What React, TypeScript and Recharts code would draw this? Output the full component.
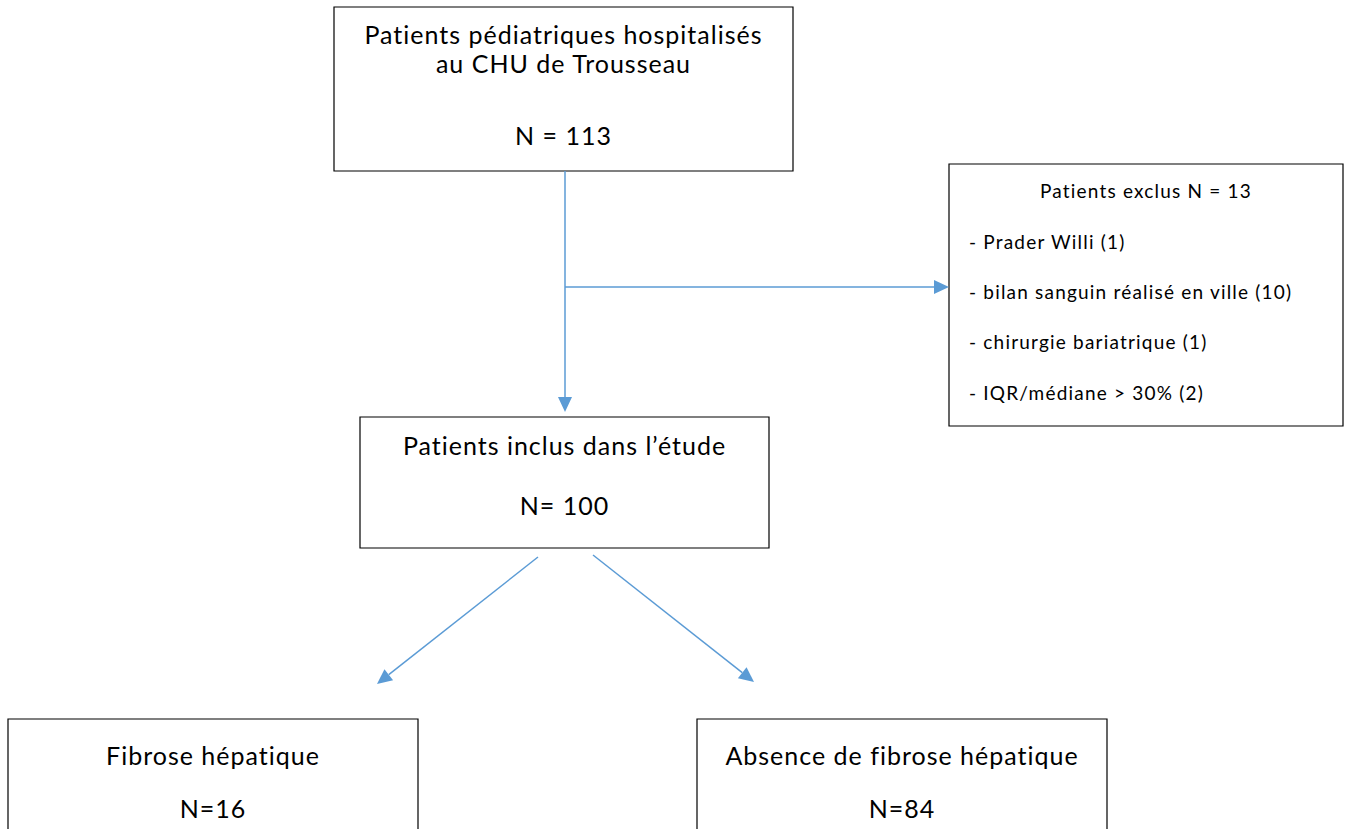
import React from 'react'
import { ComposedChart, XAxis, YAxis, ReferenceArea, ReferenceLine, ReferenceDot } from 'recharts'

/* ── Flow diagram: patients pédiatriques, inclusion / exclusion ── */

const W = 1352
const H = 829
const BLUE = '#5B9BD5'
const FONT = 'Lato, "Open Sans", sans-serif'

// contenu
const boxTitles = [
  ['Patients pédiatriques hospitalisés', 'au CHU de Trousseau'],
  ['Patients inclus dans l’étude'],
  ['Fibrose hépatique'],
  ['Absence de fibrose hépatique'],
]
const boxCounts = ['N = 113', 'N= 100', 'N=16', 'N=84']
const exclusionHeader = 'Patients exclus N = 13'
const exclusionReasons = ['Prader Willi', 'bilan sanguin réalisé en ville', 'chirurgie bariatrique', 'IQR/médiane > 30%']
const exclusionCounts = [1, 10, 1, 2]

// mise en page (coordonnées du domaine des axes)
const boxFrames = [
  { x1: 334, x2: 793, y1: 7, y2: 171 },
  { x1: 360, x2: 769, y1: 417, y2: 548 },
  { x1: 8, x2: 418, y1: 719, y2: 860 },
  { x1: 697, x2: 1107, y1: 719, y2: 860 },
]
const titleBaselines = [[44, 73], [455], [765], [765]]
const countBaselines = [145, 515, 818, 818]
const exclusionFrame = { x1: 949, x2: 1343, y1: 164, y2: 426 }
const exclusionLineY = [198, 249, 299, 349, 400]
const exclusionLeft = 969

const connectors = [
  { from: [565, 171], to: [565, 412] },
  { from: [565, 287], to: [949, 287] },
  { from: [538, 557], to: [377, 684] },
  { from: [593, 555], to: [754, 682] },
]

function Arrow(props: any) {
  const { x1, y1, x2, y2 } = props
  if ([x1, y1, x2, y2].some((v) => v == null || isNaN(v))) return null
  const dx = x2 - x1
  const dy = y2 - y1
  const len = Math.sqrt(dx * dx + dy * dy)
  const ux = dx / len
  const uy = dy / len
  const hl = 15
  const hw = 7
  const bx = x2 - ux * hl
  const by = y2 - uy * hl
  const pts = `${x2},${y2} ${bx - uy * hw},${by + ux * hw} ${bx + uy * hw},${by - ux * hw}`
  return (
    <g>
      <line x1={x1} y1={y1} x2={bx} y2={by} stroke={BLUE} strokeWidth={1.5} />
      <polygon points={pts} fill={BLUE} />
    </g>
  )
}

function textShape(label: string, size: number, spacing: number, anchor: 'middle' | 'start') {
  return (p: any) => (
    <text
      x={p.cx}
      y={p.cy}
      textAnchor={anchor}
      fontSize={size}
      fontFamily={FONT}
      letterSpacing={spacing}
      style={{ fontVariantLigatures: 'none' }}
      fill="#000"
    >
      {label}
    </text>
  )
}

export default function App() {
  return (
    <div style={{ position: 'absolute', left: 0, top: 0, width: W, height: H, background: '#fff' }}>
      <ComposedChart width={W} height={H} margin={{ top: 0, right: 0, bottom: 0, left: 0 }}>
        <XAxis type="number" dataKey="x" domain={[0, W]} hide allowDataOverflow />
        <YAxis type="number" dataKey="y" domain={[0, H]} reversed hide allowDataOverflow />

        {connectors.map((c, i) => (
          <ReferenceLine
            key={`c${i}`}
            segment={[{ x: c.from[0], y: c.from[1] }, { x: c.to[0], y: c.to[1] }]}
            shape={Arrow}
            ifOverflow="visible"
          />
        ))}

        {boxFrames.map((f, i) => (
          <ReferenceArea key={`b${i}`} {...f} fill="#fff" fillOpacity={1} stroke="#000" strokeWidth={1.2} ifOverflow="visible" />
        ))}
        <ReferenceArea {...exclusionFrame} fill="#fff" fillOpacity={1} stroke="#000" strokeWidth={1.2} />

        {boxTitles.map((lines, i) =>
          lines.map((t, j) => (
            <ReferenceDot
              key={`t${i}-${j}`}
              x={(boxFrames[i].x1 + boxFrames[i].x2) / 2}
              y={titleBaselines[i][j]}
              r={0}
              shape={textShape(t, 25, 1, 'middle')}
              ifOverflow="visible"
            />
          ))
        )}
        {boxCounts.map((t, i) => (
          <ReferenceDot
            key={`n${i}`}
            x={(boxFrames[i].x1 + boxFrames[i].x2) / 2}
            y={countBaselines[i]}
            r={0}
            shape={textShape(t, 25, 1, 'middle')}
            ifOverflow="visible"
          />
        ))}

        <ReferenceDot
          x={(exclusionFrame.x1 + exclusionFrame.x2) / 2}
          y={exclusionLineY[0]}
          r={0}
          shape={textShape(exclusionHeader, 19, 1.2, 'middle')}
        />
        {exclusionReasons.map((r, i) => (
          <ReferenceDot
            key={`e${i}`}
            x={exclusionLeft}
            y={exclusionLineY[i + 1]}
            r={0}
            shape={textShape(`- ${r} (${exclusionCounts[i]})`, 19, 1.2, 'start')}
          />
        ))}
      </ComposedChart>
    </div>
  )
}
